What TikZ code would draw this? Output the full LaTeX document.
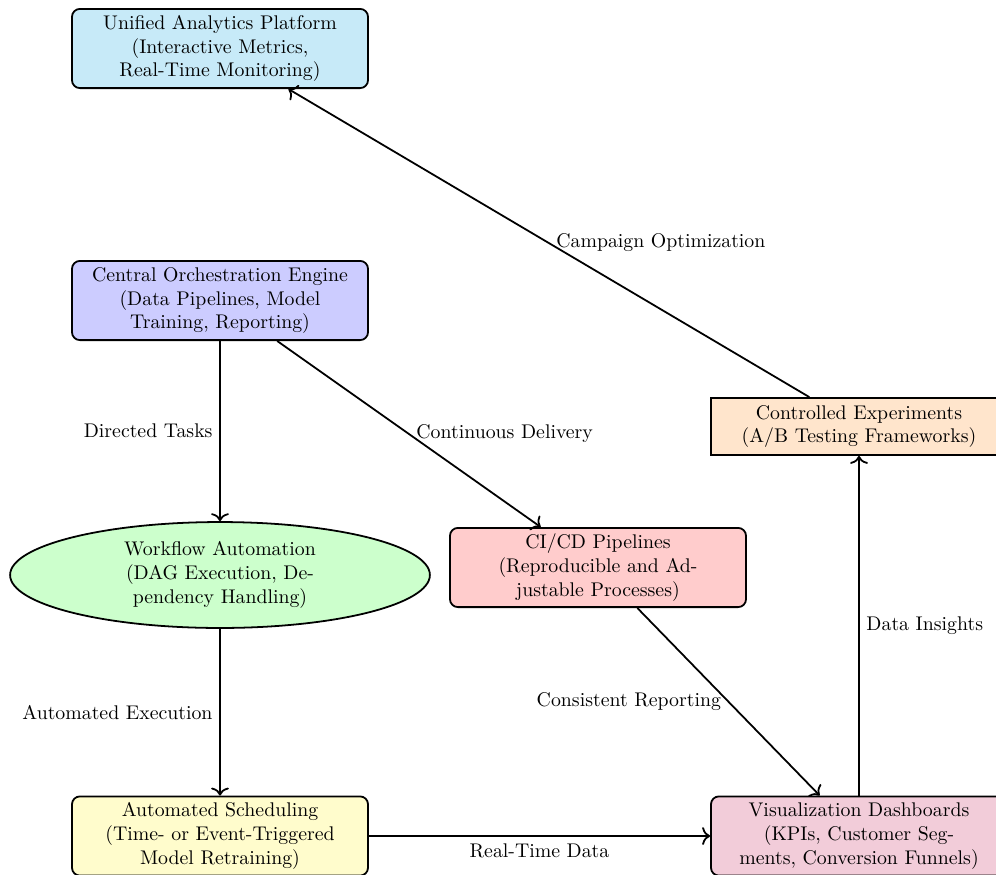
\documentclass[tikz,border=0pt]{standalone}
\usetikzlibrary{shapes.geometric,arrows.meta}
\definecolor{uapblue}{RGB}{199,234,248}
\begin{document}
\begin{tikzpicture}[x=0.505pt,y=-0.505pt,
  box/.style={draw, line width=0.9pt, rounded corners=4pt, align=center, minimum width=149.5pt, minimum height=40pt, inner sep=3pt},
  sharpbox/.style={draw, line width=0.9pt, align=center, minimum width=149.5pt, minimum height=28.8pt, inner sep=3pt},
  oval/.style={draw, line width=0.9pt, ellipse, align=center, minimum width=212pt, minimum height=53.5pt, inner sep=1pt},
  arr/.style={-{To[length=4pt,width=9pt]}, line width=0.9pt}]
\useasboundingbox (0,0) rectangle (996,874);
\node[box, fill=uapblue] (uap) at (220,48.5) {Unified Analytics Platform\\(Interactive Metrics,\\Real-Time Monitoring)};
\node[box, fill=blue!20] (coe) at (220,300.5) {Central Orchestration Engine\\(Data Pipelines, Model\\Training, Reporting)};
\node[oval, fill=green!20] (wa) at (220,575) {Workflow Automation\\(DAG Execution, De-\\pendency Handling)};
\node[box, fill=red!20] (cicd) at (598,567.5) {CI/CD Pipelines\\(Reproducible and Ad-\\justable Processes)};
\node[sharpbox, fill=orange!20] (ce) at (859,426.5) {Controlled Experiments\\(A/B Testing Frameworks)};
\node[box, fill=yellow!20] (as) at (220,836) {Automated Scheduling\\(Time- or Event-Triggered\\Model Retraining)};
\node[box, fill=purple!20] (vd) at (859,836) {Visualization Dashboards\\(KPIs, Customer Seg-\\ments, Conversion Funnels)};
\draw[arr] (ce) -- node[right] {Campaign Optimization} (uap);
\draw[arr] (coe) -- node[left] {Directed Tasks} (wa);
\draw[arr] (coe) -- node[right] {Continuous Delivery} (cicd);
\draw[arr] (wa) -- node[left] {Automated Execution} (as);
\draw[arr] (cicd) -- node[left] {Consistent Reporting} (vd);
\draw[arr] (vd) -- node[right] {Data Insights} (ce);
\draw[arr] (as) -- node[below] {Real-Time Data} (vd);
\end{tikzpicture}
\end{document}
